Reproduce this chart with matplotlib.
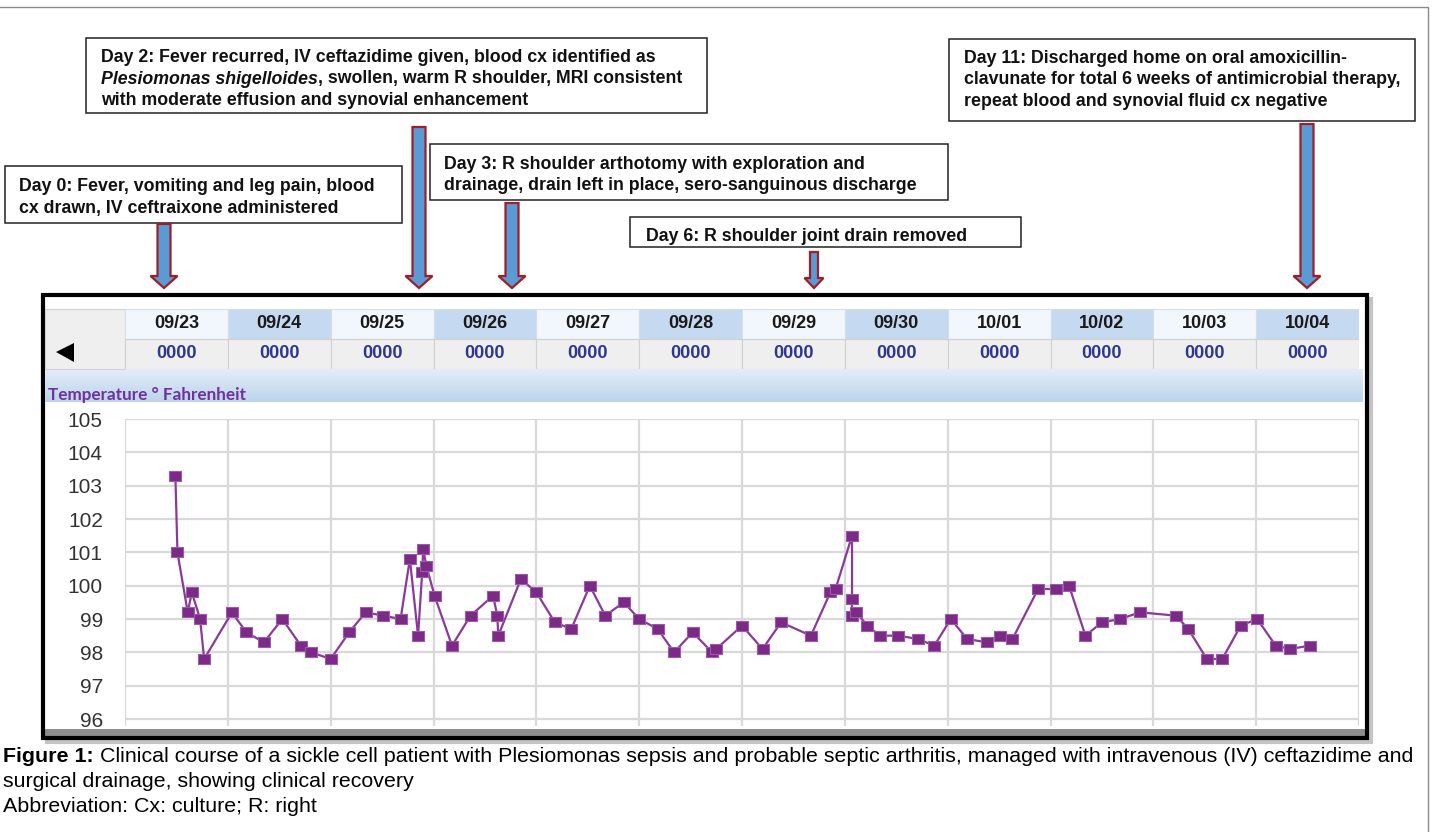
import numpy as np
import matplotlib
matplotlib.use('Agg')
from matplotlib import pyplot as plt
from matplotlib.patches import Rectangle, Polygon
from matplotlib.colors import LinearSegmentedColormap

plt.rcParams['font.family'] = ['Liberation Sans', 'DejaVu Sans']

# days since 09/23 00:00 and temperature (deg F)
days = [0.49, 0.51, 0.61, 0.65, 0.73, 0.77, 1.04, 1.18, 1.35, 1.53,
        1.71, 1.81, 2.00, 2.18, 2.34, 2.51, 2.68, 2.77, 2.85, 2.89,
        2.90, 2.93, 3.01, 3.18, 3.36, 3.58, 3.62, 3.63, 3.85, 4.00,
        4.18, 4.34, 4.52, 4.67, 4.85, 5.00, 5.18, 5.34, 5.52, 5.71,
        5.75, 6.00, 6.20, 6.38, 6.67, 6.86, 6.91, 7.07, 7.07, 7.07,
        7.11, 7.22, 7.34, 7.52, 7.71, 7.87, 8.03, 8.19, 8.38, 8.51,
        8.63, 8.88, 9.05, 9.18, 9.34, 9.50, 9.68, 9.87, 10.22, 10.34,
        10.52, 10.67, 10.85, 11.01, 11.19, 11.33, 11.52]
temps = [103.3, 101.0, 99.2, 99.8, 99.0, 97.8, 99.2, 98.6, 98.3, 99.0,
         98.2, 98.0, 97.8, 98.6, 99.2, 99.1, 99.0, 100.8, 98.5, 100.4,
         101.1, 100.6, 99.7, 98.2, 99.1, 99.7, 99.1, 98.5, 100.2, 99.8,
         98.9, 98.7, 100.0, 99.1, 99.5, 99.0, 98.7, 98.0, 98.6, 98.0,
         98.1, 98.8, 98.1, 98.9, 98.5, 99.8, 99.9, 101.5, 99.6, 99.1,
         99.2, 98.8, 98.5, 98.5, 98.4, 98.2, 99.0, 98.4, 98.3, 98.5,
         98.4, 99.9, 99.9, 100.0, 98.5, 98.9, 99.0, 99.2, 99.1, 98.7,
         97.8, 97.8, 98.8, 99.0, 98.2, 98.1, 98.2]

dates = ['09/23', '09/24', '09/25', '09/26', '09/27', '09/28',
         '09/29', '09/30', '10/01', '10/02', '10/03', '10/04']
times = ['0000'] * 12
yticks = [96, 97, 98, 99, 100, 101, 102, 103, 104, 105]

notes = [
    [[('Day 2: Fever recurred, IV ceftazidime given, blood cx identified as', 'normal')],
     [('Plesiomonas shigelloides', 'italic'), (', swollen, warm R shoulder, MRI consistent', 'normal')],
     [('with moderate effusion and synovial enhancement', 'normal')]],
    [[('Day 0: Fever, vomiting and leg pain, blood', 'normal')],
     [('cx drawn, IV ceftraixone administered', 'normal')]],
    [[('Day 3: R shoulder arthotomy with exploration and', 'normal')],
     [('drainage, drain left in place, sero-sanguinous discharge', 'normal')]],
    [[('Day 6: R shoulder joint drain removed', 'normal')]],
    [[('Day 11: Discharged home on oral amoxicillin-', 'normal')],
     [('clavunate for total 6 weeks of antimicrobial therapy,', 'normal')],
     [('repeat blood and synovial fluid cx negative', 'normal')]],
]

W, H = 1434, 832
fig = plt.figure(figsize=(W / 100, H / 100), dpi=100)
rend = fig.canvas.get_renderer()


def fbox(l, t, r, b):
    return [l / W, 1 - b / H, (r - l) / W, (b - t) / H]


bg = fig.add_axes([0, 0, 1, 1])
bg.axis('off')

# page frame
bg.plot([0, 1428, 1428], [7, 7, 832], color='#8a8a8a', lw=1.0)

# chart frame with shadow
bg.add_patch(Rectangle((47, 299), 1324, 443, fill=False, ec='#c4c4c4', lw=3))
bg.add_patch(Rectangle((45, 297), 1320, 439, fc='white', ec='none'))
bg.add_patch(Rectangle((45, 729), 1320, 7, fc='#8e8e8e', ec='none'))
bg.add_patch(Rectangle((43, 295), 1324, 443, fill=False, ec='black', lw=3))

# blue band with the series title
cm = LinearSegmentedColormap.from_list('band', ['#e3edf8', '#bcd4ed'])
bg.imshow(np.linspace(0, 1, 40).reshape(-1, 1), cmap=cm, aspect='auto',
          extent=(45, 1363, 402, 369), zorder=1)
bg.text(48, 400, 'Temperature \u00b0 Fahrenheit',
        family=['Lato', 'DejaVu Sans'], weight='bold', size=12.3,
        color='#7030a0', va='baseline', zorder=3)

# left header cell with back arrow
bg.add_patch(Rectangle((45, 309), 80, 60, fc='#efefef', ec='#d2d2d2', lw=0.8, zorder=2))
bg.add_patch(Polygon([(56, 352), (74, 343), (74, 362)], closed=True, fc='black', ec='none', zorder=3))

# annotation boxes: (left, top, right, bottom, text left, first baseline)
boxes = [(86, 38, 707, 113, 101, 62),
         (5, 166, 402, 223, 19, 191),
         (430, 144, 948, 200, 444, 169),
         (630, 217, 1021, 247, 646, 241),
         (949, 39, 1415, 121, 964, 63)]
fs = 12.8
for (l, t, r, b, tx, ty), lines in zip(boxes, notes):
    bg.add_patch(Rectangle((l, t), r - l, b - t, fc='white', ec='#222222', lw=1.1))
    for k, parts in enumerate(lines):
        x = tx
        for s, st in parts:
            tt = bg.text(x, ty + k * 21.5, s, size=fs, weight='bold', style=st,
                         va='baseline', color='#111111')
            x += tt.get_window_extent(renderer=rend).width

# arrows: (x center, top, tip, shaft width, head width, head length)
arrows = [(164, 224, 288, 13, 27, 12),
          (419, 127, 288, 13, 27, 12),
          (512, 203, 288, 13, 27, 12),
          (814, 252, 288, 8, 19, 10),
          (1307, 124, 288, 13, 27, 12)]
for xc, y0, y1, sw, hw, hl in arrows:
    pts = [(xc - sw / 2, y0), (xc + sw / 2, y0), (xc + sw / 2, y1 - hl),
           (xc + hw / 2, y1 - hl), (xc, y1), (xc - hw / 2, y1 - hl),
           (xc - sw / 2, y1 - hl)]
    bg.add_patch(Polygon(pts, closed=True, fc='#5b9bd5', ec='#9e1f26', lw=1.6))

# caption
cfs = 15.4
cap = [('Figure 1:', 'Clinical course of a sickle cell patient with Plesiomonas sepsis and probable septic arthritis, managed with intravenous (IV) ceftazidime and'),
       ('', 'surgical drainage, showing clinical recovery'),
       ('', 'Abbreviation: Cx: culture; R: right')]
for k, (b, rest) in enumerate(cap):
    y = 762 + k * 25
    x = 3
    if b:
        tt = bg.text(x, y, b, size=cfs, weight='bold', va='baseline')
        x += tt.get_window_extent(renderer=rend).width + 0.28 * cfs * 100 / 72
    bg.text(x, y, rest, size=cfs, va='baseline')

bg.set_xlim(0, W)
bg.set_ylim(H, 0)

# header rows
hx = fig.add_axes(fbox(125, 309, 1359, 369))
xs = np.arange(len(dates)) + 0.5
shade = ['#f2f7fd' if i % 2 == 0 else '#c5d9f1' for i in range(len(dates))]
hx.bar(xs, 1, bottom=0, width=1, color=shade, edgecolor='#d5dde8', linewidth=0.8)
hx.bar(xs, 1, bottom=1, width=1, color='#efefef', edgecolor='#d0d0d0', linewidth=0.8)
for x, d, t in zip(xs, dates, times):
    hx.text(x, 0.5, d, ha='center', va='center', weight='bold', size=13, color='#1a1a1a')
    hx.text(x, 1.5, t, ha='center', va='center', weight='bold', size=13, color='#2e3790')
hx.set_xlim(0, 12)
hx.set_ylim(2, 0)
hx.axis('off')

# temperature chart
ax = fig.add_axes(fbox(125, 419, 1359, 726))
rect = [(-1, -0.8), (1, -0.8), (1, 0.8), (-1, 0.8), (-1, -0.8)]
ax.plot(days, temps, color='#8a3a98', lw=1.6, marker=rect, ms=8.5,
        mfc='#7b2a86', mec='#9c5aab', mew=0.8, zorder=3)
ax.set_xlim(0, 12)
ax.set_ylim(95.79, 105)
ax.set_xticks(range(0, 13))
ax.set_xticklabels([])
ax.set_yticks(yticks)
ax.set_yticklabels([str(v) for v in yticks])
ax.tick_params(axis='both', length=0)
ax.tick_params(axis='y', pad=16, labelsize=15, labelcolor='#333333')
ax.grid(True, color='#d9d9d9', lw=1.6)
ax.set_axisbelow(True)
for s in ax.spines.values():
    s.set_visible(False)

fig.savefig('out.png', dpi=100)
